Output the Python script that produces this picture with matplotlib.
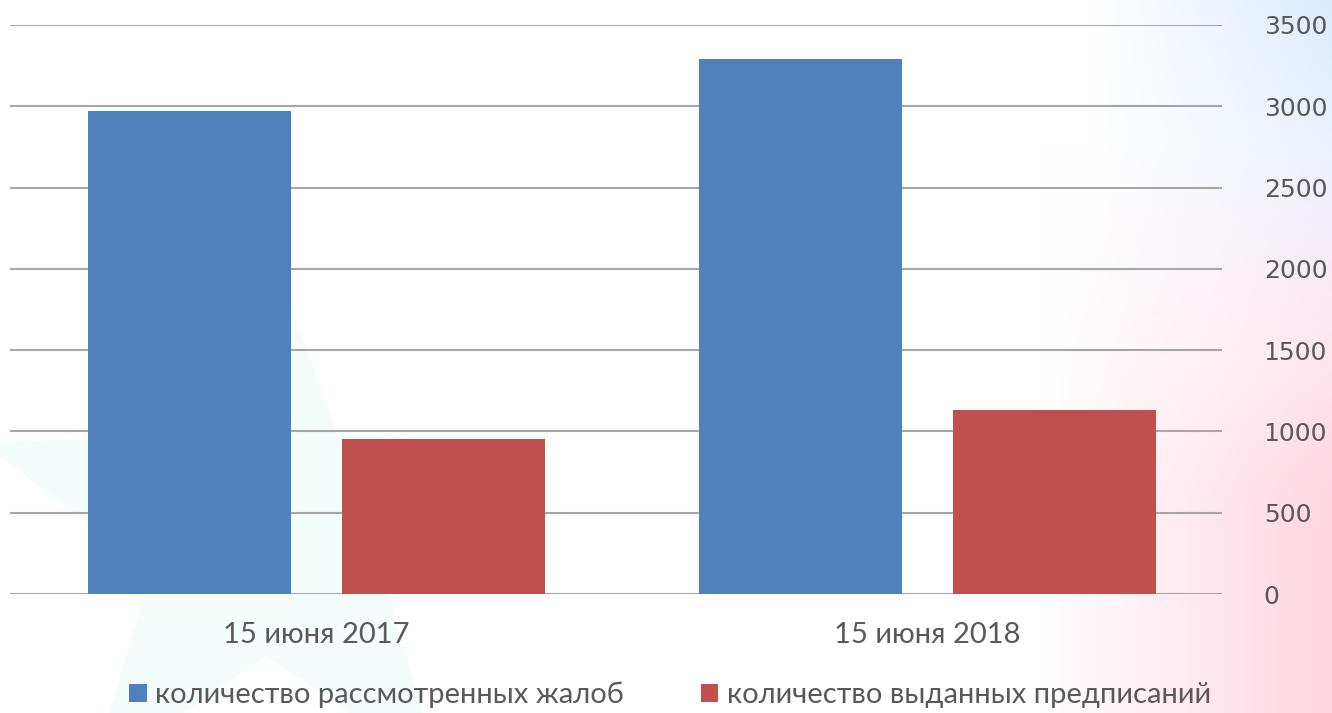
import numpy as np
import matplotlib
matplotlib.use("Agg")
import matplotlib.pyplot as plt
from matplotlib.patches import Polygon

categories = ["15 июня 2017", "15 июня 2018"]
series_names = ["количество рассмотренных жалоб", "количество выданных предписаний"]
complaints = [2970, 3290]
orders = [953, 1132]
yticks = [0, 500, 1000, 1500, 2000, 2500, 3000, 3500]

colors = ["#4F81BD", "#C0504D"]
plt.rcParams['font.family'] = ['Lato', 'DejaVu Sans']

W, H = 1332, 713
fig = plt.figure(figsize=(W / 100, H / 100), dpi=100)

# soft background decoration
bg = fig.add_axes([0, 0, 1, 1], zorder=-10)
yy, xx = np.mgrid[0:1:200j, 0:1:380j]
img = np.ones((200, 380, 3))
blue = np.clip((xx - 0.82) / 0.18, 0, 1) * np.clip(1 - yy / 0.5, 0, 1)
pink = np.clip((xx - 0.78) / 0.22, 0, 1) * np.clip((yy - 0.2) / 0.5, 0, 1)
img[..., 0] -= blue * 0.13
img[..., 1] -= blue * 0.08 + pink * 0.16
img[..., 2] -= pink * 0.11
bg.imshow(np.clip(img, 0, 1), extent=[0, 1, 0, 1], aspect='auto', origin='upper')
# faint star shape on left
cx, cy = 0.2, 0.25
pts = []
for k in range(10):
    ang = np.pi / 2 + k * np.pi / 5
    r = 0.42 if k % 2 == 0 else 0.17
    pts.append((cx + r * np.cos(ang) * H / W, cy + r * np.sin(ang)))
bg.add_patch(Polygon(pts, closed=True, facecolor="#e6f8f8", edgecolor='none', alpha=0.4))
bg.set_xlim(0, 1)
bg.set_ylim(0, 1)
bg.axis('off')

ax = fig.add_axes([10 / W, 1 - 594 / H, 1212 / W, (594 - 25) / H])
ax.patch.set_alpha(0)

x = np.arange(len(categories))
bw = 0.332
off = 0.2077
ax.bar(x - off, complaints, bw, color=colors[0], label=series_names[0], zorder=3)
ax.bar(x + off, orders, bw, color=colors[1], label=series_names[1], zorder=3)

ax.set_ylim(0, 3500)
ax.set_xlim(-0.502, 1.482)
ax.set_yticks(yticks)
ax.yaxis.tick_right()
ax.yaxis.grid(True, color="#a6a6a6", linewidth=1.5, zorder=0)
ax.tick_params(axis='y', length=0, pad=30, labelsize=18, labelcolor="#595959")
for lbl in ax.get_yticklabels():
    lbl.set_horizontalalignment('left')
    lbl.set_fontfamily('DejaVu Sans')
ax.set_xticks(x)
ax.set_xticklabels(categories)
ax.tick_params(axis='x', length=0, pad=20, labelsize=21, labelcolor="#595959")
for s in ax.spines.values():
    s.set_visible(False)

leg = fig.legend(loc='center', bbox_to_anchor=(0.503, 1 - 695 / H), ncol=2, frameon=False,
                 fontsize=21, handlelength=0.6, handleheight=0.6, handletextpad=0.28,
                 columnspacing=2.65)
for t in leg.get_texts():
    t.set_color("#595959")

fig.savefig("out.png", dpi=100)
